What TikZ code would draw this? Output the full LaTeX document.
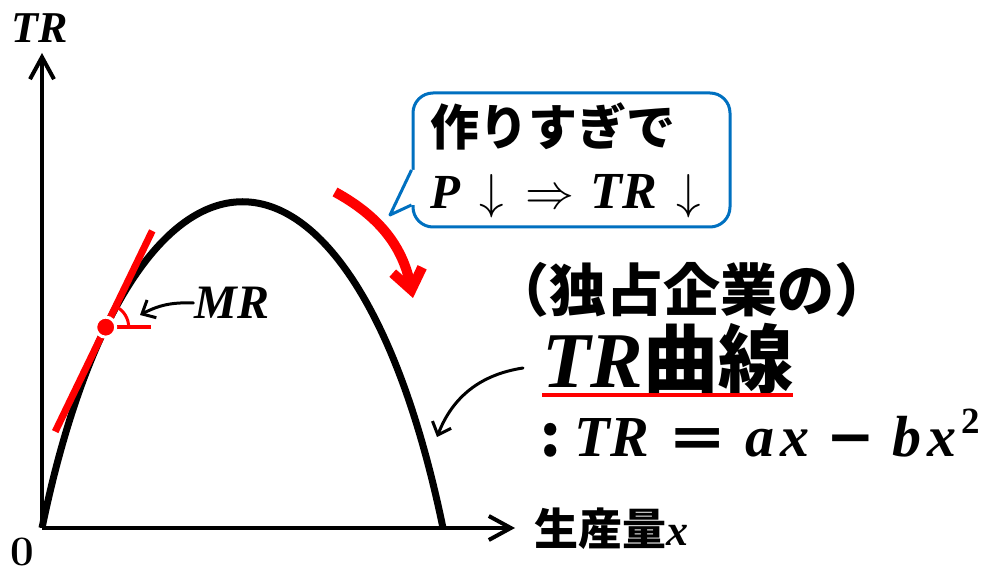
\documentclass[tikz,border=0pt]{standalone}
\usepackage{fix-cm}
\usepackage{amsmath}
\usepackage{graphicx}
\usepackage{fontspec}
\usepackage{tikz}
\usetikzlibrary{arrows.meta,calc}

\newfontfamily\jp{Noto Sans CJK JP}
\newfontfamily\mi{Liberation Serif}
\newfontfamily\sym{DejaVu Sans}
\newcommand{\mvar}[1]{{\mi\bfseries\itshape #1}}
\definecolor{bubbleblue}{RGB}{0,112,192}

\tikzset{
	axis/.style={line width=4pt,-{Straight Barb[length=22pt,width=24pt]}},
	trcurve/.style={line width=7pt},
	pointer/.style={line width=3pt,line cap=round,-{Straight Barb[length=11pt,width=20pt]}},
	redarrow/.style={red,line width=10pt,-{Straight Barb[length=20pt,width=30pt]}},
	bubble/.style={draw=bubbleblue,line width=3pt,fill=white,rounded corners=20pt,
		text width=283pt,inner xsep=17pt,minimum height=134pt,align=left,
		font=\jp\bfseries\fontsize{49}{63}\selectfont}
}

\begin{document}
\begin{tikzpicture}[x=1pt,y=1pt]
		\useasboundingbox (0,0) rectangle (991,573);
		
		\coordinate (O) at (42,45);
		\coordinate (Y) at (42,520);
		\coordinate (X) at (515,45);
		\coordinate (Q) at (443,45);
		
		\draw[axis] (O) -- (Y);
		\draw[axis] (O) -- (X);
		\draw[trcurve] (O) .. controls (132,480) and (353,480) .. (Q) coordinate[pos=0.19] (M);
		
		\begin{scope}[red]
			\draw[line width=7pt] ($(M)+(244.2:116pt)$) -- ($(M)+(64.2:107pt)$);
			\draw[line width=4.5pt] (M) -- ++(45pt,0);
			\draw[line width=3pt] ($(M)+(23pt,0)$) arc[start angle=0,end angle=64,radius=23pt];
			\fill[draw=white,line width=3pt] (M) circle (10pt);
		\end{scope}
		
		\begin{scope}[every node/.style={inner sep=1pt}]
			\node[font=\fontsize{44}{48}\selectfont] (TR) at (40,545) {\mvar{TR}};
			\node[font=\bfseries\fontsize{42}{50}\selectfont] (zero) at (22,21) {0};
			\node[font=\fontsize{44}{50}\selectfont] (output) at (611,44) {{\jp\bfseries 生産量}\mvar{x}};
			\node[font=\fontsize{48}{52}\selectfont] (MR) at (232,270) {\mvar{MR}};
			\node[font=\jp\bfseries\fontsize{57}{60}\selectfont] (title) at (692,283) {（独占企業の）};
		\end{scope}
		
		\begin{scope}[every node/.style={anchor=base west,inner sep=0pt}]
			\node (curve) at (542,185) {\fontsize{79}{80}\selectfont\mvar{TR}\jp\bfseries\fontsize{75}{77}\selectfont 曲線};
			\node (formula) at (540,116) {\fontsize{58}{60}\selectfont{\jp\bfseries :}\hspace{14pt}\mvar{TR}\hspace{20pt}{\sym\bfseries\scalebox{1.2}[1]{=}}\hspace{19pt}\mvar{a\hspace{6pt}x}\hspace{17pt}{\sym\bfseries −}\hspace{17pt}\mvar{b\hspace{6pt}x}\hspace{5pt}\raisebox{23pt}{\fontsize{37}{37}\selectfont\mi\bfseries 2}};
		\end{scope}
		\draw[red,line width=3.5pt] ([yshift=-7pt]curve.base west) -- ([yshift=-7pt]curve.base east);
		
		\node[bubble] (talk) at (571.5,413) {作りすぎで\\\mvar{P}\hspace{20pt}$\downarrow$\hspace{21pt}$\Rightarrow$\hspace{16pt}{\fontsize{52}{63}\selectfont\mvar{TR}}\hspace{20pt}$\downarrow$};
		\coordinate (tip) at (390,358);
		\fill[white] ([yshift=-10pt]talk.west) -- (tip) -- ([yshift=-45pt]talk.west)
			-- ([shift={(4pt,-45pt)}]talk.west) -- ([shift={(4pt,-10pt)}]talk.west) -- cycle;
		\draw[bubbleblue,line width=3pt,line join=round] ([yshift=-10pt]talk.west) -- (tip) -- ([yshift=-45pt]talk.west);
		
		\coordinate (r1) at (335,381);
		\coordinate (r2) at (413,275);
		\coordinate (mrtip) at (140,258);
		\coordinate (curvetip) at (437,136);
		\draw[redarrow] (r1) to[bend left=25] (r2);
		\draw[pointer] (MR.west) to[bend right=15] (mrtip);
		\draw[pointer] ([shift={(-19pt,20pt)}]curve.base west) to[bend right=30] (curvetip);
	\end{tikzpicture}
\end{document}
